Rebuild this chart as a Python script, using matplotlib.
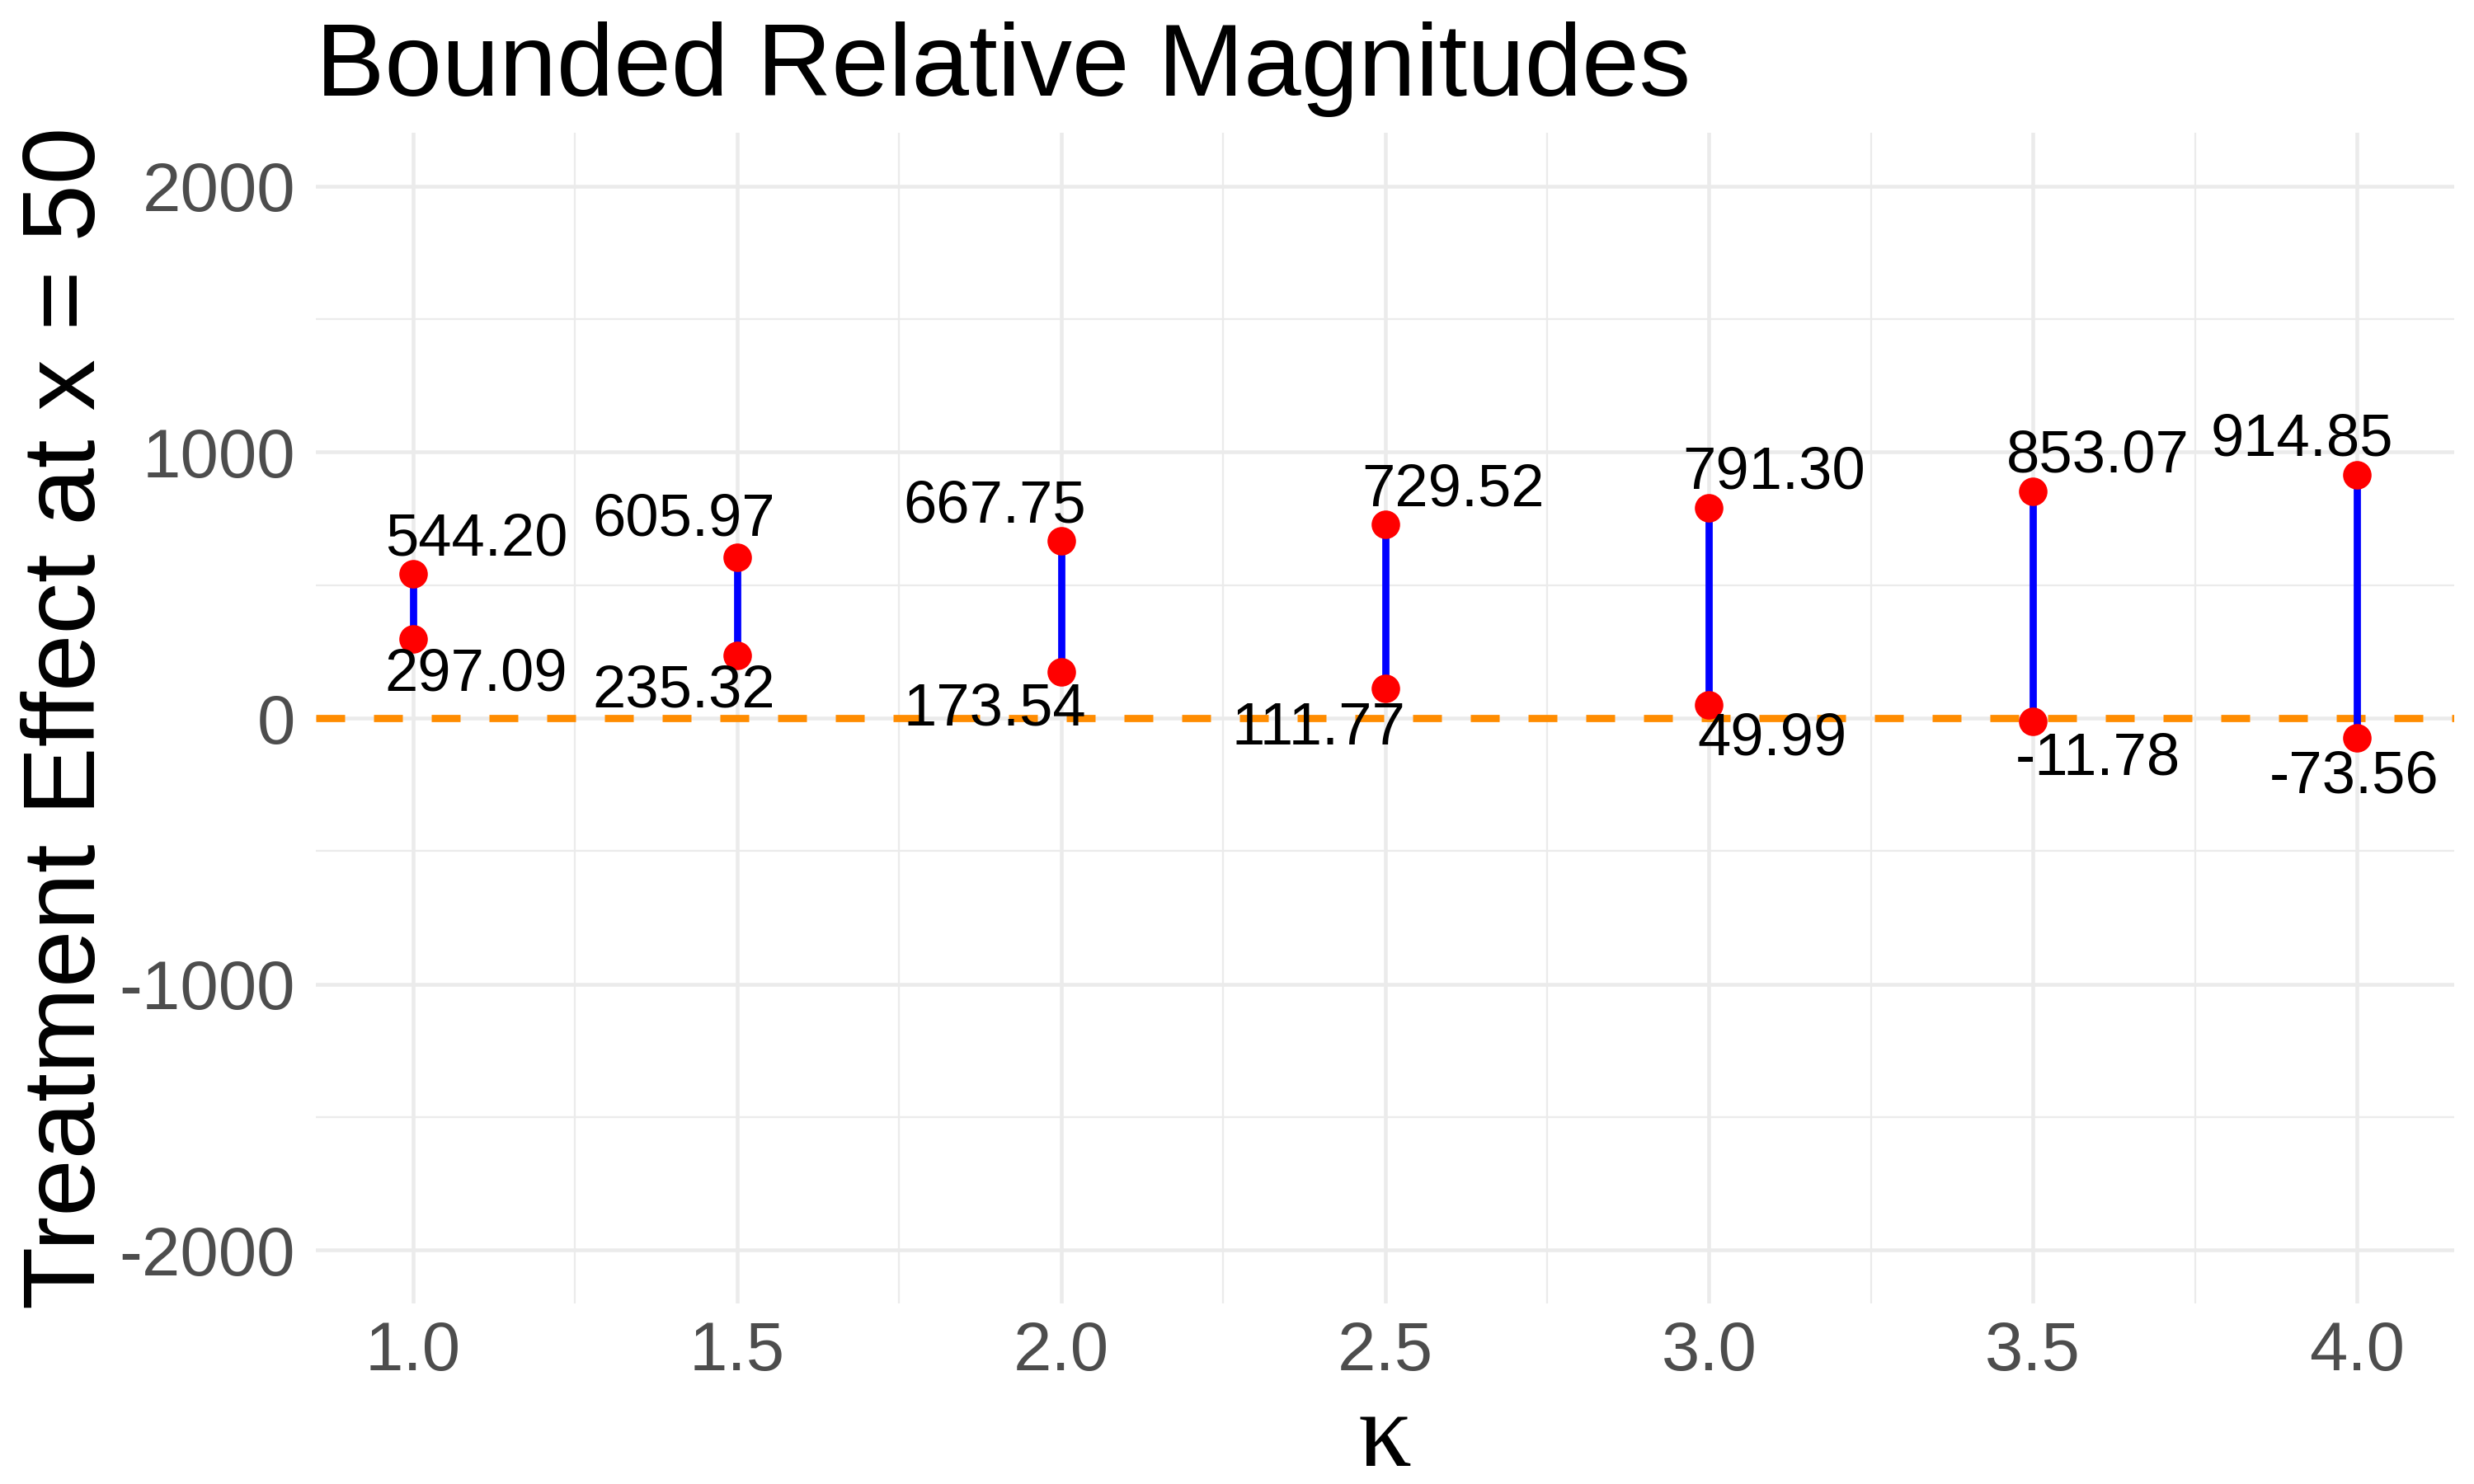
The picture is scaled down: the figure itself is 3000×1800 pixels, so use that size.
import matplotlib
matplotlib.use("Agg")
import matplotlib.pyplot as plt
import numpy as np
from matplotlib.ticker import MultipleLocator, FuncFormatter

plt.rcParams["font.family"] = ["Liberation Sans", "DejaVu Sans"]

# data
kappa = [1.0, 1.5, 2.0, 2.5, 3.0, 3.5, 4.0]
upper = [544.20, 605.97, 667.75, 729.52, 791.30, 853.07, 914.85]
lower = [297.09, 235.32, 173.54, 111.77, 49.99, -11.78, -73.56]

# label offsets (points) to mimic the repelled labels
up_dx = [18.4, -15.6, -19.3, 19.8, 18.9, 18.9, -16.1]
lo_dx = [18.4, -15.6, -19.3, -19.3, 18.4, 18.9, -0.9]
up_dy = [9.7, 10.6, 9.7, 9.7, 10.1, 10.1, 10.1]
lo_dy = [-10.6, -10.6, -11.0, -12.0, -10.1, -11.0, -11.5]

fig = plt.figure(figsize=(10, 6), dpi=300)
ax = fig.add_axes([0.1277, 0.1219, 0.8643, 0.7884])

grid_col = "#EBEBEB"
ax.xaxis.set_major_locator(MultipleLocator(0.5))
ax.xaxis.set_minor_locator(MultipleLocator(0.25))
ax.yaxis.set_major_locator(MultipleLocator(1000))
ax.yaxis.set_minor_locator(MultipleLocator(500))
ax.yaxis.set_major_formatter(FuncFormatter(lambda v, p: "%d" % v))
ax.grid(which="major", color=grid_col, linewidth=1.1)
ax.grid(which="minor", color=grid_col, linewidth=0.55)
ax.set_axisbelow(True)
for s in ax.spines.values():
    s.set_visible(False)
ax.tick_params(which="both", length=0)
ax.tick_params(axis="both", labelsize=20, labelcolor="#4D4D4D")
ax.tick_params(axis="x", pad=5)
ax.tick_params(axis="y", pad=6)

ax.set_xlim(0.85, 4.15)
ax.set_ylim(-2200, 2200)
ax.set_xticks(kappa)
ax.set_xticklabels(["%.1f" % k for k in kappa])

ax.axhline(0, color="#FF8C00", linewidth=2.1, dashes=(4, 4), zorder=2)
ax.vlines(kappa, lower, upper, color="blue", linewidth=2.1, zorder=3)
ax.plot(kappa, upper, "o", color="red", markersize=8.3, markeredgewidth=0, zorder=4)
ax.plot(kappa, lower, "o", color="red", markersize=8.3, markeredgewidth=0, zorder=4)

for i, k in enumerate(kappa):
    ax.annotate("%.2f" % upper[i], (k, upper[i]), xytext=(up_dx[i], up_dy[i]),
                textcoords="offset points", ha="center", va="center", fontsize=17.4, zorder=5)
    ax.annotate("%.2f" % lower[i], (k, lower[i]), xytext=(lo_dx[i], lo_dy[i]),
                textcoords="offset points", ha="center", va="center", fontsize=17.4, zorder=5)

ax.set_title("Bounded Relative Magnitudes", loc="left", fontsize=30, pad=11)
ax.set_ylabel("Treatment Effect at x = 50", fontsize=30)
ax.yaxis.set_label_coords(-0.0934, 0.5)
ax.set_xlabel("κ", fontsize=31, family=["Liberation Serif", "DejaVu Serif"], labelpad=2)

fig.savefig("out.png", dpi=300)
